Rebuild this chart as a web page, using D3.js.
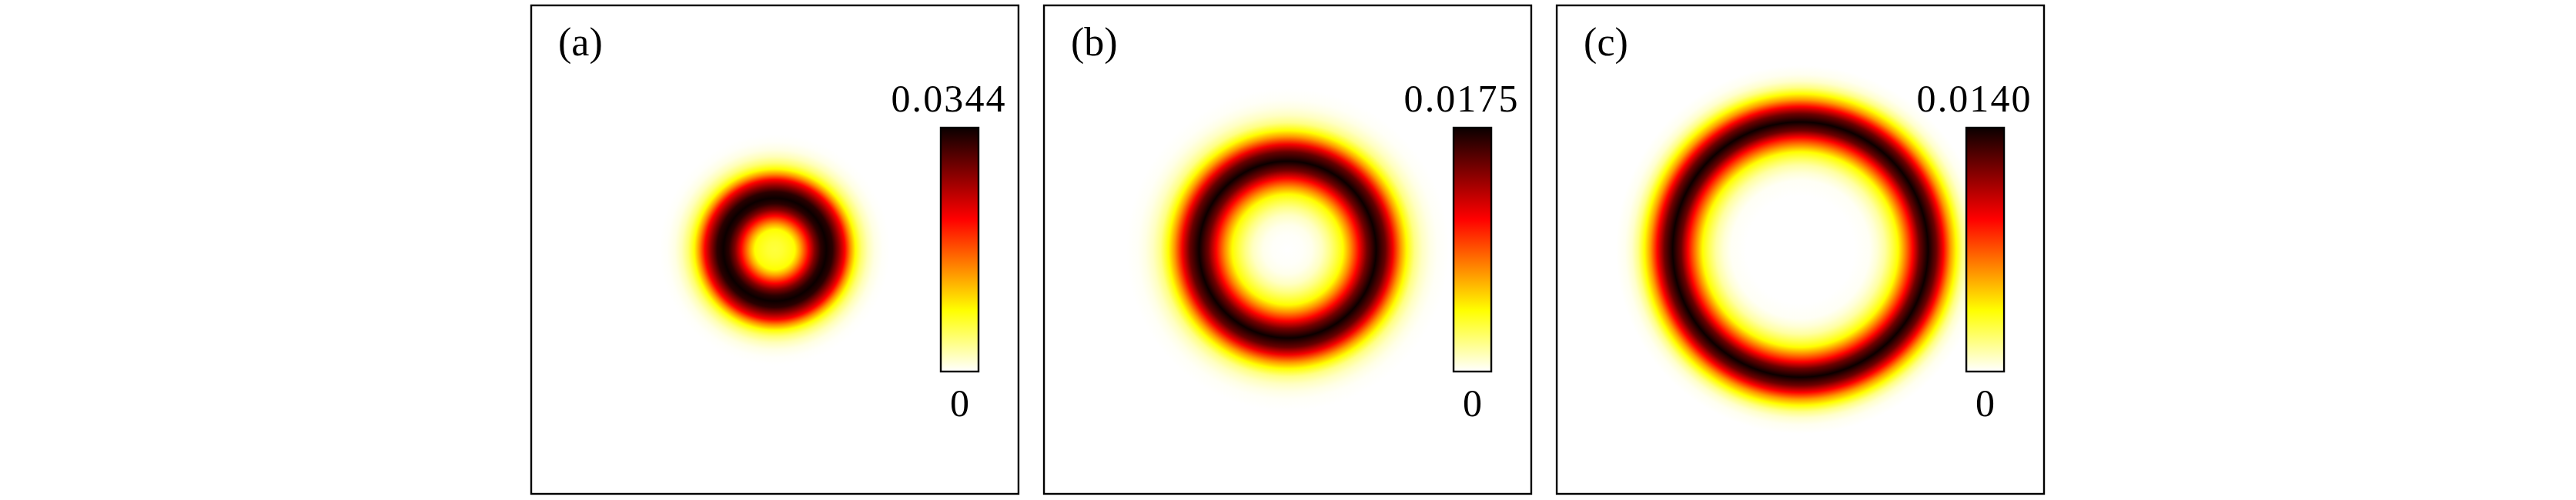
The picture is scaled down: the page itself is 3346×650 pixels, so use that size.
<!DOCTYPE html>
<html>
<head>
<meta charset="utf-8">
<script src="https://cdn.jsdelivr.net/npm/d3@7"></script>
<style>
  html, body { margin: 0; padding: 0; background: #ffffff; }
  svg { display: block; }
  text { font-family: "Liberation Serif", "DejaVu Serif", serif; fill: #000; }
</style>
</head>
<body>
<svg id="chart" width="3346" height="650"></svg>
<script>
// ---------------- data ----------------
const panels = ["(a)", "(b)", "(c)"];
const maxLabels = ["0.0344", "0.0175", "0.0140"];
const minLabels = ["0", "0", "0"];
const maxValues = [0.0344, 0.0175, 0.0140];

// radial intensity profiles: radius (normalised transverse coordinate) and intensity
const radiusA = [0, 0.032, 0.063, 0.082, 0.104, 0.139, 0.164, 0.189, 0.211, 0.237, 0.262, 0.287, 0.309, 0.331, 0.356, 0.382, 0.410, 0.442, 0.473];
const intensityA = [0.0065, 0.0069, 0.0079, 0.0086, 0.0131, 0.0215, 0.0282, 0.0327, 0.0344, 0.0327, 0.0275, 0.0215, 0.0144, 0.0086, 0.0048, 0.0024, 0.0009, 0.0002, 0];

const radiusB = [0, 0.063, 0.101, 0.142, 0.174, 0.199, 0.227, 0.259, 0.293, 0.325, 0.363, 0.401, 0.432, 0.464, 0.489, 0.521, 0.552, 0.584, 0.615, 0.662];
const intensityB = [0, 0.0001, 0.00035, 0.00105, 0.0021, 0.00315, 0.0044, 0.00735, 0.0109, 0.0147, 0.0175, 0.01505, 0.0112, 0.007, 0.0044, 0.0021, 0.00105, 0.00044, 0.00014, 0];

const radiusC = [0, 0.221, 0.284, 0.315, 0.347, 0.372, 0.401, 0.429, 0.461, 0.489, 0.524, 0.558, 0.587, 0.615, 0.640, 0.666, 0.691, 0.719, 0.757];
const intensityC = [0, 0, 0.00014, 0.00056, 0.00126, 0.00224, 0.0035, 0.00588, 0.00875, 0.0119, 0.014, 0.0119, 0.00875, 0.0056, 0.0035, 0.00168, 0.0007, 0.00021, 0];

// reversed "hot" colormap anchors (fraction of max -> colour)
const cmapStops = [0, 0.25, 0.625, 1];
const cmapColors = ["#ffffff", "#ffff00", "#ff0000", "#0b0000"];

// ---------------- layout ----------------
const profiles = [
  { r: radiusA, v: intensityA },
  { r: radiusB, v: intensityB },
  { r: radiusC, v: intensityC }
];

const svg = d3.select("#chart");
const panelBand = d3.scaleBand().domain(panels).range([690, 2655]).paddingInner(0.0497);
const panelTop = 7, panelH = 635;
const bw = panelBand.bandwidth();

const hot = d3.scaleLinear().domain(cmapStops).range(cmapColors).clamp(true);
const defs = svg.append("defs");

// colorbar gradient (bottom = 0, top = max)
const cbGrad = defs.append("linearGradient")
  .attr("id", "cbgrad").attr("x1", 0).attr("y1", 1).attr("x2", 0).attr("y2", 0);
cbGrad.selectAll("stop").data(cmapStops).join("stop")
  .attr("offset", d => d)
  .attr("stop-color", d => hot(d));

panels.forEach((name, i) => {
  const x0 = panelBand(name);
  const g = svg.append("g");
  const xs = d3.scaleLinear().domain([-1, 1]).range([x0, x0 + bw]);
  const ys = d3.scaleLinear().domain([1, -1]).range([panelTop, panelTop + panelH]);
  const cx = xs(0), cy = ys(0);
  const prof = profiles[i];
  const rMax = d3.max(prof.r);
  const rPix = xs(rMax) - xs(0);
  const valNorm = d3.scaleLinear().domain([0, maxValues[i]]).range([0, 1]);

  // radial gradient built from the profile
  const gid = "ring" + i;
  const rg = defs.append("radialGradient")
    .attr("id", gid)
    .attr("gradientUnits", "userSpaceOnUse")
    .attr("cx", cx).attr("cy", cy).attr("r", rPix)
    .attr("fx", cx).attr("fy", cy);
  rg.selectAll("stop").data(d3.zip(prof.r, prof.v)).join("stop")
    .attr("offset", d => d[0] / rMax)
    .attr("stop-color", d => hot(valNorm(d[1])));

  const clipId = "clip" + i;
  defs.append("clipPath").attr("id", clipId)
    .append("rect").attr("x", x0).attr("y", panelTop).attr("width", bw).attr("height", panelH);

  g.append("circle")
    .attr("clip-path", `url(#${clipId})`)
    .attr("cx", cx).attr("cy", cy).attr("r", rPix)
    .attr("fill", `url(#${gid})`);

  // colorbar
  const cbX = x0 + 532, cbW = 49, cbTop = 166, cbBot = 483;
  const cbScale = d3.scaleLinear().domain([0, maxValues[i]]).range([cbBot, cbTop]);
  g.append("rect")
    .attr("x", cbX).attr("y", cbScale(maxValues[i]))
    .attr("width", cbW).attr("height", cbScale(0) - cbScale(maxValues[i]))
    .attr("fill", "url(#cbgrad)")
    .attr("stroke", "#000").attr("stroke-width", 2.4);

  g.append("text")
    .attr("x", cbX + cbW / 2 - 15).attr("y", cbScale(maxValues[i]) - 21)
    .attr("text-anchor", "middle")
    .attr("font-size", 50)
    .attr("textLength", 148).attr("lengthAdjust", "spacing")
    .text(maxLabels[i]);

  g.append("text")
    .attr("x", cbX + cbW / 2).attr("y", cbScale(0) + 58)
    .attr("text-anchor", "middle")
    .attr("font-size", 50)
    .text(minLabels[i]);

  // panel label
  g.append("text")
    .attr("x", x0 + 35).attr("y", 72)
    .attr("font-size", 52)
    .text(name);

  // frame
  g.append("rect")
    .attr("x", x0).attr("y", panelTop)
    .attr("width", bw).attr("height", panelH)
    .attr("fill", "none").attr("stroke", "#000").attr("stroke-width", 2.4);
});
</script>
</body>
</html>
